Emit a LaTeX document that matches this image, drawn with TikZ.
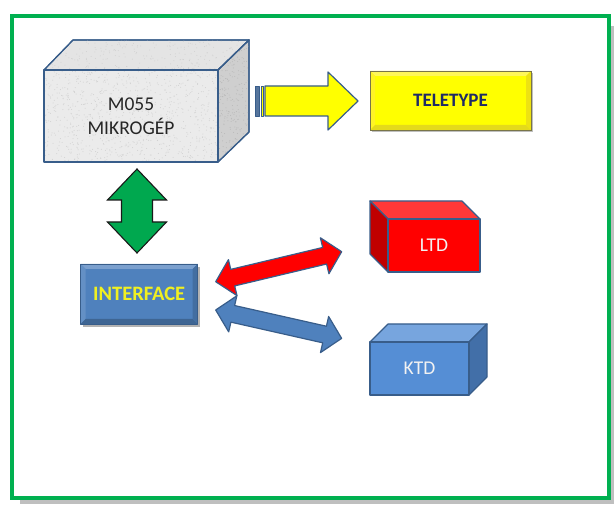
\documentclass[tikz,border=0pt]{standalone}
\usepackage{fontspec}
\setmainfont{Carlito}
\usetikzlibrary{calc}
\definecolor{frameg}{HTML}{00B050}
\definecolor{shadowg}{HTML}{BFBFBF}
\definecolor{edgeb}{HTML}{385D8A}
\definecolor{granite}{HTML}{EBEBEB}
\definecolor{granitetop}{HTML}{E4E4E4}
\definecolor{graniteside}{HTML}{CFCFCF}
\definecolor{ttyfill}{HTML}{FFFF00}
\definecolor{ttytext}{HTML}{1F2A66}
\definecolor{ifblue}{HTML}{4F81BD}
\definecolor{ifyellow}{HTML}{F0F020}
\definecolor{arrgreen}{HTML}{00A84F}
\definecolor{ltdfront}{HTML}{FF0000}
\definecolor{ltdtop}{HTML}{FF3838}
\definecolor{ltdside}{HTML}{C00000}
\definecolor{ktdfront}{HTML}{558ED5}
\definecolor{ktdtop}{HTML}{77A5DE}
\definecolor{ktdside}{HTML}{426FA8}
\newcommand\mybevel[5]{%
 \fill[#2] (#1.north west) -- (#1.north east) -- ($(#1.north east)+(-5,5)$) -- ($(#1.north west)+(5,5)$) -- cycle;
 \fill[#3] (#1.north west) -- ($(#1.north west)+(5,5)$) -- ($(#1.south west)+(5,-5)$) -- (#1.south west) -- cycle;
 \fill[#4] (#1.south west) -- ($(#1.south west)+(5,-5)$) -- ($(#1.south east)+(-5,-5)$) -- (#1.south east) -- cycle;
 \fill[#5] (#1.north east) -- (#1.south east) -- ($(#1.south east)+(-5,-5)$) -- ($(#1.north east)+(-5,5)$) -- cycle;
}
\tikzset{
  edge/.style={draw=edgeb, line width=1.2pt, line join=round},
  facebox/.style={inner sep=0pt, outer sep=0pt},
  boxtext/.style={font=\fontsize{19.5}{24}\selectfont},
}
\begin{document}
\begin{tikzpicture}[x=1pt,y=-1pt]
\useasboundingbox (0,0) rectangle (614,505);
% frame with shadow
\fill[shadowg] (20,26) rectangle (614,504);
\filldraw[fill=white, draw=frameg, line width=4pt] (12,16) rectangle (609,498);

% ---- M055 box ----
\node[facebox, fill=granite, minimum width=174pt, minimum height=92pt] (m055) at (131,116) {};
\begin{scope}
  \clip (m055.north west) rectangle (m055.south east);
  \pgfmathsetseed{7}
  \foreach \i in {1,...,900}{
    \fill[black!18] ({44+174*rnd},{70+92*rnd}) circle (0.5pt);
  }
\end{scope}
\filldraw[edge, fill=granitetop] (m055.north west) -- ++(29,-30) -- ++(176,0) -- (m055.north east) -- cycle;
\begin{scope}
  \clip (m055.north west) -- ++(29,-30) -- ++(176,0) -- (m055.north east) -- cycle;
  \foreach \i in {1,...,250}{
    \fill[black!18] ({44+205*rnd},{40+30*rnd}) circle (0.5pt);
  }
\end{scope}
\filldraw[edge, fill=graniteside] (m055.north east) -- ++(31,-30) -- ++(0,92) -- (m055.south east) -- cycle;
\begin{scope}
  \clip (m055.north east) -- ++(31,-30) -- ++(0,92) -- (m055.south east) -- cycle;
  \foreach \i in {1,...,250}{
    \fill[black!28] ({218+31*rnd},{40+122*rnd}) circle (0.5pt);
  }
\end{scope}
\draw[edge] (m055.north west) -- ++(29,-30) -- ++(176,0) -- (m055.north east);
\draw[edge] (m055.north east) -- ++(31,-30) -- ++(0,92) -- (m055.south east);
\draw[edge] (m055.north west) rectangle (m055.south east);
\node[boxtext, align=center, text=black!85] (m055t) at (m055.center) {M055\\MIKROGÉP};

% ---- TELETYPE ----
\fill[black!25] (372,73) rectangle (533,132);
\node[facebox, fill=ttyfill, minimum width=161pt, minimum height=59pt, text=ttytext, font=\fontsize{19}{22}\selectfont\bfseries] (tty) at (450.5,100.5) {TELETYPE};
\mybevel{tty}{yellow!65!white}{yellow!85!white}{yellow!88!black}{yellow!92!black}
\draw[draw=black!60!yellow, line width=0.8pt] (tty.north west) rectangle (tty.south east);

% ---- yellow striped arrow ----
\coordinate (ytail) at (255,101);
\coordinate (ytip) at (358,101);
\filldraw[edge, line width=0.8pt, fill=edgeb!85] ($(ytail)+(0,-15)$) rectangle ($(ytail)+(4,15)$);
\filldraw[edge, line width=0.8pt, fill=ttyfill] ($(ytail)+(6,-15)$) rectangle ($(ytail)+(8.5,15)$);
\filldraw[edge, fill=ttyfill] ($(ytail)+(10,-15)$) -- ($(ytip)+(-30,-15)$) -- ($(ytip)+(-30,-29)$) -- (ytip)
   -- ($(ytip)+(-30,29)$) -- ($(ytip)+(-30,15)$) -- ($(ytail)+(10,15)$) -- cycle;

% ---- green vertical double arrow ----
\coordinate (gtop) at (137,169);
\coordinate (gbot) at (137,253);
\filldraw[draw=black!90, line width=1.1pt, line join=miter, fill=arrgreen]
  (gtop) -- ++(29.5,31) -- ++(-14,0) -- ++(0,22) -- ++(14,0) -- (gbot)
  -- ++(-29.5,-31) -- ++(14,0) -- ++(0,-22) -- ++(-14,0) -- cycle;

% ---- INTERFACE ----
\fill[black!30] (83,267) rectangle (200,327);
\node[facebox, fill=ifblue, minimum width=117pt, minimum height=60pt, text=ifyellow, font=\fontsize{20.5}{24}\selectfont\bfseries] (intf) at (139.2,294) {INTERFACE};
\mybevel{intf}{ifblue!75!white}{ifblue!88!white}{ifblue!78!black}{ifblue!85!black}
\draw[edge, line width=0.9pt] (intf.north west) rectangle (intf.south east);

% ---- red double arrow ----
\coordinate (rl) at (215.7,281.7);
\begin{scope}[shift={(rl)}, rotate=13.4]
  \filldraw[edge, fill=ltdfront] (0,0) -- (17.5,-18.5) -- (17.5,-8.5) -- (112,-8.5) -- (112,-18.5)
    -- (129.5,0) -- (112,18.5) -- (112,8.5) -- (17.5,8.5) -- (17.5,18.5) -- cycle;
\end{scope}

% ---- blue double arrow ----
\coordinate (bl) at (215.7,310);
\begin{scope}[shift={(bl)}, rotate=-12.7]
  \filldraw[edge, fill=ifblue] (0,0) -- (17.5,-18.5) -- (17.5,-8.5) -- (111.6,-8.5) -- (111.6,-18.5)
    -- (129.1,0) -- (111.6,18.5) -- (111.6,8.5) -- (17.5,8.5) -- (17.5,18.5) -- cycle;
\end{scope}

% ---- LTD box ----
\node[facebox, fill=ltdfront, minimum width=92pt, minimum height=53pt, text=white!95!black, boxtext] (ltd) at (434,245.5) {LTD};
\filldraw[edge, fill=ltdtop] (ltd.north west) -- ++(-18,-18) -- ++(92,0) -- (ltd.north east) -- cycle;
\filldraw[edge, fill=ltdside] (ltd.north west) -- ++(-18,-18) -- ++(0,53) -- (ltd.south west) -- cycle;
\draw[edge] (ltd.north west) rectangle (ltd.south east);

% ---- KTD box ----
\node[facebox, fill=ktdfront, minimum width=99pt, minimum height=53pt, text=white!95!black, boxtext] (ktd) at (419.5,368.5) {KTD};
\filldraw[edge, fill=ktdtop] (ktd.north west) -- ++(18,-18) -- ++(99,0) -- (ktd.north east) -- cycle;
\filldraw[edge, fill=ktdside] (ktd.north east) -- ++(18,-18) -- ++(0,53) -- (ktd.south east) -- cycle;
\draw[edge] (ktd.north west) rectangle (ktd.south east);
\end{tikzpicture}
\end{document}
